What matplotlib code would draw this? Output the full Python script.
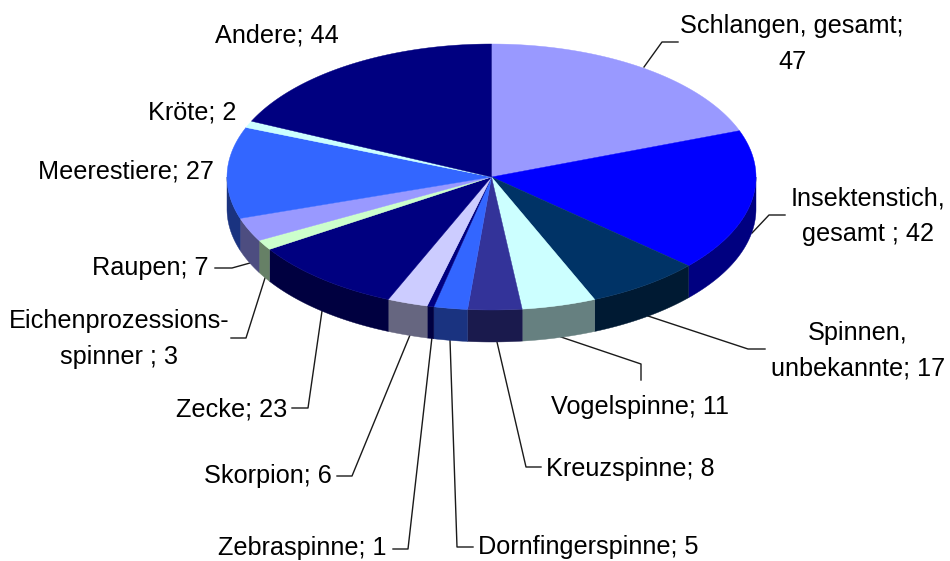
import numpy as np
import matplotlib
matplotlib.use("Agg")
import matplotlib.pyplot as plt
from matplotlib.colors import to_rgb

# ---------------------------------------------------------------------------
# Data
# ---------------------------------------------------------------------------
VALUES = [47, 42, 17, 11, 8, 5, 1, 6, 23, 3, 7, 27, 2, 44]
COLORS = ["#9999FF", "#0000FF", "#003366", "#CCFFFF", "#333399", "#3366FF", "#000080",
          "#CCCCFF", "#000080", "#CCFFCC", "#9999FF", "#3366FF", "#CCFFFF", "#000080"]
LABELS = ["Schlangen, gesamt;\n47", "Insektenstich,\ngesamt ; 42", "Spinnen,\nunbekannte; 17",
          "Vogelspinne; 11", "Kreuzspinne; 8", "Dornfingerspinne; 5", "Zebraspinne; 1",
          "Skorpion; 6", "Zecke; 23", "Eichenprozessions-\nspinner ; 3", "Raupen; 7",
          "Meerestiere; 27", "Kröte; 2", "Andere; 44"]

# label anchors in pixels
LABEL_X = [792, 868, 858, 640, 546, 478, 387, 332, 287, 119, 209, 214, 236, 339]
LABEL_Y = [44, 216, 351, 407, 469, 547, 548, 476, 409, 339, 268, 171, 112, 35]
LABEL_HA = ["center", "center", "center", "center", "left", "left", "right",
            "right", "right", "center", "right", "right", "right", "right"]

# leader lines in pixels, None = no line
LEADERS = [
    [(644, 67), (662, 42), (678, 42)],
    [(752, 233), (769, 215), (785, 215)],
    [(648, 316), (748, 349), (765, 349)],
    [(561, 337), (641, 364), (641, 380)],
    [(497, 342), (526, 467), (541, 467)],
    [(450, 340), (457, 547), (473, 547)],
    [(432, 337), (408, 549), (393, 549)],
    [(410, 335), (352, 476), (337, 476)],
    [(322, 311), (308, 408), (292, 408)],
    [(265, 278), (246, 338), (231, 338)],
    [(250, 263), (232, 268), (215, 268)],
    None, None, None,
]

# pie geometry in pixels
CX, CY = 491.5, 177
RX, RY = 264.5, 133
DEPTH = 32


def rim(a, b):
    """Points on the ellipse between two angles, clockwise from 12 o'clock."""
    t = np.linspace(a, b, max(2, int((b - a) * 120)))
    return CX + RX * np.sin(t), CY - RY * np.cos(t)


plt.rcParams["font.family"] = ["Liberation Sans", "DejaVu Sans"]

fig = plt.figure(figsize=(9.5, 5.61), dpi=100)
ax = fig.add_axes([0, 0, 1, 1])
ax.set_xlim(0, 950)
ax.set_ylim(561, 0)
ax.axis("off")

edges = np.cumsum([0] + VALUES) / sum(VALUES) * 2 * np.pi

# side walls, only the front half of the rim shows
for a, b, col in zip(edges[:-1], edges[1:], COLORS):
    lo, hi = max(a, np.pi / 2), min(b, 3 * np.pi / 2)
    if lo >= hi:
        continue
    x, y = rim(lo, hi)
    dark = tuple(c * 0.5 for c in to_rgb(col))
    ax.fill(np.r_[x, x[::-1]], np.r_[y, y[::-1] + DEPTH], color=dark, lw=0.3, zorder=2)

# top face
for a, b, col in zip(edges[:-1], edges[1:], COLORS):
    x, y = rim(a, b)
    ax.fill(np.r_[CX, x], np.r_[CY, y], facecolor=col, edgecolor=col, lw=0.3, zorder=3)

for pts in LEADERS:
    if pts:
        ax.plot(*zip(*pts), color="#1a1a1a", lw=1.0, zorder=1)

for label, x, y, ha in zip(LABELS, LABEL_X, LABEL_Y, LABEL_HA):
    ax.text(x, y, label, ha=ha, va="center", fontsize=18.2, color="#000000",
            linespacing=1.58, multialignment="center", zorder=5)

fig.savefig("out.png", dpi=100)
